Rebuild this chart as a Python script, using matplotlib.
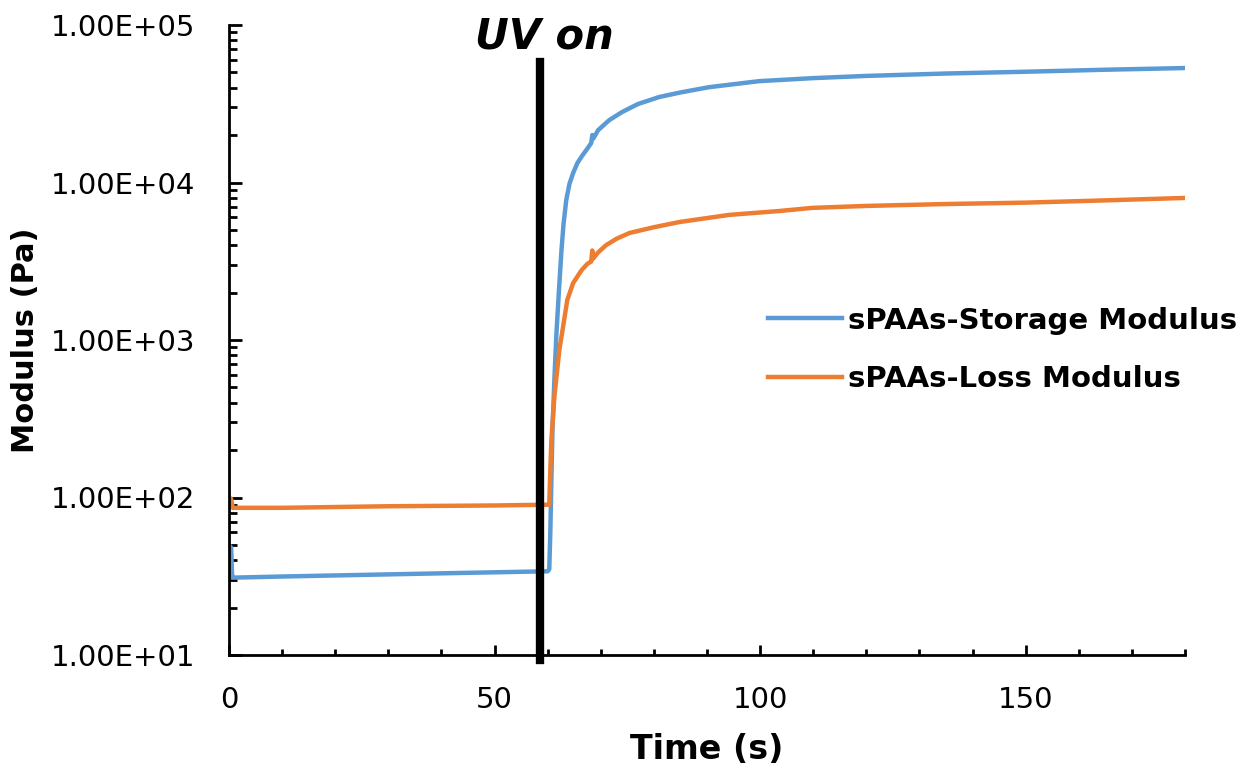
import matplotlib
matplotlib.use("Agg")
import matplotlib.pyplot as plt
from matplotlib.ticker import FuncFormatter, MultipleLocator, LogLocator, NullFormatter

# values
t_storage = [0, 0.4, 0.6, 1, 10, 20, 30, 40, 50, 60, 60.3, 60.5, 60.7, 60.9, 61.3, 61.65,
             62.1, 62.6, 63.0, 63.5, 64.1, 64.8, 65.6, 66.5, 67.3, 68.2, 68.4, 68.6, 69.5,
             71.6, 74, 77, 81, 85, 90.4, 99.8, 110, 120, 135, 150, 165, 180]
storage = [50, 48, 31, 31, 31.5, 32, 32.5, 33, 33.5, 34, 35, 60, 130, 268, 600, 1100, 2000,
           3720, 5500, 7740, 9800, 11500, 13300, 14800, 16100, 17800, 20000, 19000, 21500,
           24900, 28000, 31500, 34900, 37300, 40300, 44000, 46000, 47500, 49200, 50500,
           52000, 53300]

t_loss = [0, 0.4, 0.7, 10, 20, 30, 40, 50, 60, 60.3, 60.5, 60.7, 61.3, 62.2, 62.8, 63.7,
          64.8, 66.4, 67.5, 68.2, 68.4, 68.6, 69.5, 71, 73, 75.4, 80, 84.8, 94.2, 103.6,
          109.8, 120, 135, 150, 165, 180]
loss = [100, 98, 86, 86, 87, 88, 88.5, 89, 90, 90, 150, 232, 450, 865, 1156, 1800, 2300,
        2780, 3050, 3150, 3700, 3300, 3600, 4000, 4400, 4780, 5200, 5610, 6230, 6590, 6900,
        7100, 7300, 7450, 7700, 7980]

uv_time = 58.6
labels = ["sPAAs-Storage Modulus", "sPAAs-Loss Modulus"]
blue = "#5B9BD5"
orange = "#ED7D31"

plt.rcParams['font.family'] = ['DejaVu Sans']

fig = plt.figure(figsize=(12.48, 7.70), dpi=100)
ax = fig.add_axes([229 / 1248, 115 / 770, 956 / 1248, 630 / 770])

ax.plot(t_storage, storage, color=blue, lw=3.2, label=labels[0])
ax.plot(t_loss, loss, color=orange, lw=3.2, label=labels[1])

ax.set_yscale('log')
ax.set_ylim(10, 1e5)
ax.set_xlim(0, 180)

# UV on marker
ax.axvline(uv_time, ymin=-0.008, ymax=0.941, color='black', lw=6, clip_on=False)
ax.text(uv_time + 0.7, 0.982, "UV on", transform=ax.get_xaxis_transform(), ha='center',
        va='center', fontsize=30, fontweight='bold', fontstyle='italic')

ax.spines['top'].set_visible(False)
ax.spines['right'].set_visible(False)
for s in ['left', 'bottom']:
    ax.spines[s].set_linewidth(2)

ax.xaxis.set_major_locator(MultipleLocator(50))
ax.xaxis.set_minor_locator(MultipleLocator(10))
ax.yaxis.set_major_locator(LogLocator(base=10))
ax.yaxis.set_minor_locator(LogLocator(base=10, subs=range(2, 10)))
ax.yaxis.set_minor_formatter(NullFormatter())
ax.yaxis.set_major_formatter(FuncFormatter(lambda v, p: f"{v:.2E}"))

ax.tick_params(axis='x', which='major', direction='in', length=7, width=2, pad=22, labelsize=21)
ax.tick_params(axis='x', which='minor', direction='in', length=4, width=2)
ax.tick_params(axis='y', which='major', direction='in', length=9, width=2, pad=24, labelsize=21)
ax.tick_params(axis='y', which='minor', direction='in', length=6, width=2)

ax.set_xlabel("Time (s)", fontsize=24, fontweight='bold', labelpad=14)
ax.set_ylabel("Modulus (Pa)", fontsize=22, fontweight='bold', labelpad=8)

fig.legend(loc='center left', bbox_to_anchor=(768 / 1248, 420 / 770), frameon=False,
           prop={'weight': 'bold', 'size': 21}, handlelength=2.55,
           handletextpad=0.2, labelspacing=1.05, borderpad=0, borderaxespad=0)

fig.savefig("out.png", dpi=100)
